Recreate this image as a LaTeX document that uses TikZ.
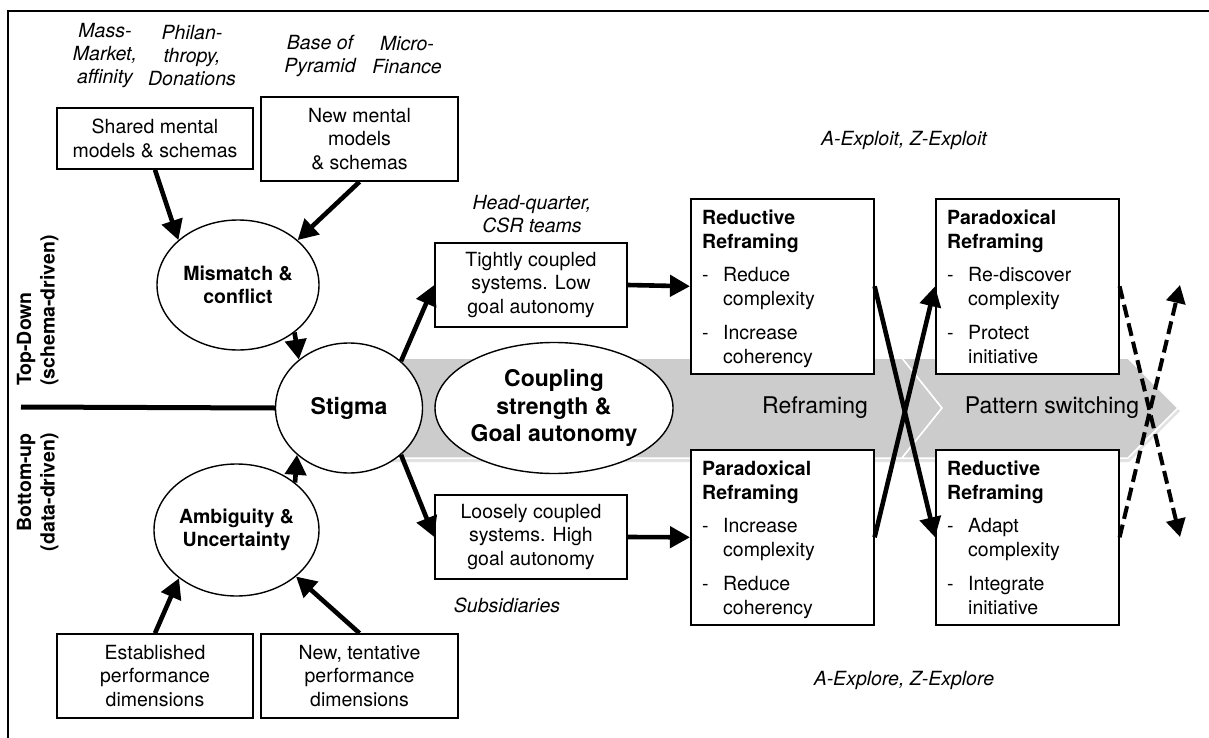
\documentclass[tikz,border=0pt]{standalone}
\usepackage{fontspec}
\setmainfont{TeX Gyre Heros}
\usetikzlibrary{arrows.meta,shapes.geometric}

% bullet line with a hanging second line
\newcommand{\itm}[2]{\makebox[21pt][l]{-}#1\\\hspace*{21pt}#2}

\definecolor{bandgray}{RGB}{204,204,204}
\definecolor{shadowgray}{RGB}{226,226,226}

\begin{document}
\begin{tikzpicture}[x=1pt,y=-1pt,
  every node/.style={font=\fontsize{19.5}{23.5}\selectfont, inner sep=0pt},
  txtbox/.style={draw, line width=1.6pt, fill=white, align=center},
  oval/.style={ellipse, draw, line width=1.4pt, fill=white, align=center,
    font=\fontsize{19.5}{23}\selectfont\bfseries},
  bigoval/.style={oval, font=\fontsize{23}{27.5}\selectfont\bfseries},
  framebox/.style={draw, line width=1.6pt, fill=white, anchor=north west,
    minimum width=183pt, minimum height=175pt},
  inbox/.style={anchor=north west, align=left},
  note/.style={align=center, font=\fontsize{19.5}{23}\selectfont\itshape},
  bandtext/.style={font=\fontsize{23}{27}\selectfont},
  arr/.style={line width=4.6pt, -{Triangle[length=20pt,width=21pt]}},
  darr/.style={line width=4pt, dash pattern=on 13pt off 6pt,
    -{Triangle[length=18pt,width=19pt]}},
  vlabel/.style={rotate=90, font=\fontsize{19.5}{23}\selectfont\bfseries},
]
\useasboundingbox (0,0) rectangle (1209,738);

% outer frame (left and top edges)
\draw[line width=2pt] (8,738) -- (8,11) -- (1209,11);

% chevron band with soft shadow
\fill[shadowgray] (380,361) -- (902,361) -- (943,411) -- (902,462) -- (380,462) -- cycle;
\fill[shadowgray] (902,361) -- (1129,361) -- (1180,411) -- (1129,462) -- (902,462) -- (943,411) -- cycle;
\filldraw[fill=bandgray, draw=white, line width=1.5pt]
  (380,358) -- (902,358) -- (942,408) -- (902,458) -- (380,458) -- cycle;
\filldraw[fill=bandgray, draw=white, line width=1.5pt]
  (902,358) -- (1128,358) -- (1178,408) -- (1128,458) -- (902,458) -- (942,408) -- cycle;
\node[bandtext] (reframe) at (815,408) {Reframing};
\node[bandtext] (pswitch) at (1052,408) {Pattern switching};

% italic annotations
\node[note] (massm) at (105,56) {Mass-\\Market,\\affinity};
\node[note] (phil) at (192,56) {Philan-\\thropy,\\Donations};
\node[note] (bop) at (320,55.5) {Base of\\Pyramid};
\node[note] (micro) at (407,55.5) {Micro-\\Finance};
\node[note] (hq) at (532,214) {Head-quarter,\\CSR teams};
\node[note] (subs) at (507,605) {Subsidiaries};
\node[note] (exploit) at (904,140) {A-Exploit, Z-Exploit};
\node[note] (explore) at (904,680) {A-Explore, Z-Explore};

% side labels
\node[vlabel, anchor=mid west] (td1) at (28.5,386) {Top-Down};
\node[vlabel, anchor=mid west] (td2) at (52,386) {(schema-driven)};
\node[vlabel, anchor=mid east] (bu1) at (28.5,433) {Bottom-up};
\node[vlabel, anchor=mid east] (bu2) at (52,433) {(data-driven)};

% rectangular boxes
\node[txtbox, minimum width=196pt, minimum height=61pt] (shared) at (155,138.5) {Shared mental\\models \& schemas};
\node[txtbox, minimum width=197pt, minimum height=84pt] (newmm) at (359.5,139) {New mental\\models\\\& schemas};
\node[txtbox, minimum width=192pt, minimum height=84pt] (tight) at (531,285) {Tightly coupled\\systems. Low\\goal autonomy};
\node[txtbox, minimum width=192pt, minimum height=84pt] (loose) at (531,537) {Loosely coupled\\systems. High\\goal autonomy};
\node[txtbox, minimum width=196pt, minimum height=84pt] (estab) at (155,676) {Established\\performance\\dimensions};
\node[txtbox, minimum width=197pt, minimum height=84pt] (newtent) at (359.5,676) {New, tentative\\performance\\dimensions};

% ovals
\node[oval, minimum width=162pt, minimum height=130pt] (mismatch) at (238,285) {Mismatch \&\\conflict};
\node[oval, minimum width=165pt, minimum height=132pt] (ambig) at (236.5,530) {Ambiguity \&\\Uncertainty};
\node[bigoval, minimum width=147pt, minimum height=130pt] (stigma) at (349,408) {Stigma};
\node[bigoval, minimum width=238pt, minimum height=131pt] (coupling) at (554,408) {Coupling\\strength \&\\Goal autonomy};

% reframing boxes
\node[framebox] (rr1) at (690,198) {};
\node[inbox] (rr1t) at ([xshift=12pt,yshift=-12pt]rr1.north west)
  {\textbf{Reductive}\\\textbf{Reframing}\\[10pt]\itm{Reduce}{complexity}\\[11pt]\itm{Increase}{coherency}};
\node[framebox] (pr2) at (935,198) {};
\node[inbox] (pr2t) at ([xshift=12pt,yshift=-12pt]pr2.north west)
  {\textbf{Paradoxical}\\\textbf{Reframing}\\[10pt]\itm{Re-discover}{complexity}\\[11pt]\itm{Protect}{initiative}};
\node[framebox] (pr1) at (690,449) {};
\node[inbox] (pr1t) at ([xshift=12pt,yshift=-12pt]pr1.north west)
  {\textbf{Paradoxical}\\\textbf{Reframing}\\[10pt]\itm{Increase}{complexity}\\[11pt]\itm{Reduce}{coherency}};
\node[framebox] (rr2) at (935,449) {};
\node[inbox] (rr2t) at ([xshift=12pt,yshift=-12pt]rr2.north west)
  {\textbf{Reductive}\\\textbf{Reframing}\\[10pt]\itm{Adapt}{complexity}\\[11pt]\itm{Integrate}{initiative}};

% divider between the two halves
\coordinate (hl) at (21,407);
\draw[line width=5pt] (hl) -- (stigma.west);

% arrows
\draw[arr] (shared.south) -- (mismatch.143);
\draw[arr] (newmm.south) -- (mismatch.37);
\draw[arr] (mismatch.-40) -- (stigma.136);
\draw[arr] (estab.north) -- (ambig.220);
\draw[arr] (newtent.north) -- (ambig.-38);
\draw[arr] (ambig.39) -- (stigma.222);
\draw[arr] (stigma.42) -- (tight.west);
\draw[arr] (stigma.-42) -- (loose.west);
\draw[arr] (tight.east) -- (rr1.west);
\draw[arr] (loose.east) -- (pr1.west);
\draw[arr] (rr1.east) -- (rr2.west);
\draw[arr] (pr1.east) -- (pr2.west);

% pattern switching, dashed
\coordinate (d1) at (1180,537);
\coordinate (d2) at (1180,285);
\draw[darr] (pr2.east) -- (d1);
\draw[darr] (rr2.east) -- (d2);

\end{tikzpicture}
\end{document}
